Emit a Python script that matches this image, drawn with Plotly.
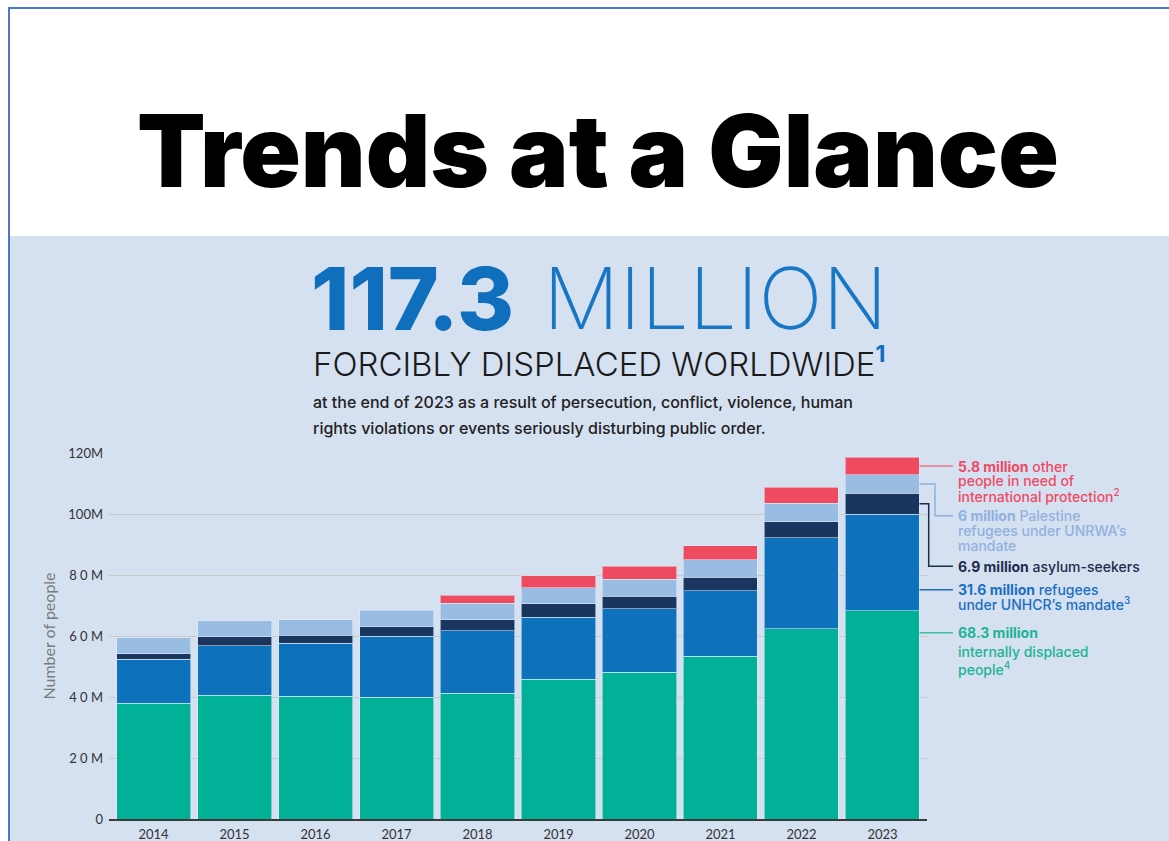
import plotly.graph_objects as go

# ---- data (millions of people, end of year) ----
years = ["2014", "2015", "2016", "2017", "2018", "2019", "2020", "2021", "2022", "2023"]
internally_displaced = [38.0, 40.5, 40.2, 39.9, 41.3, 45.9, 48.1, 53.3, 62.3, 68.3]
refugees_unhcr = [14.3, 16.3, 17.4, 20.0, 20.4, 20.3, 20.8, 21.6, 29.9, 31.6]
asylum_seekers = [1.9, 3.0, 2.6, 3.2, 3.7, 4.3, 4.1, 4.4, 5.3, 6.9]
palestine_unrwa = [5.2, 5.2, 5.2, 5.3, 5.3, 5.4, 5.6, 5.7, 6.0, 6.0]
other_protection = [None, None, None, None, 2.7, 3.9, 4.2, 4.6, 5.2, 5.8]

y_tick_values = [0, 20, 40, 60, 80, 100, 120]
y_tick_labels = ["0", "2 0 M", "4 0 M", "6 0 M", "8 0 M", "100M", "120M"]

# ---- colours ----
C_IDP = "#00b197"
C_REF = "#0e71bb"
C_ASY = "#1b365e"
C_UNRWA = "#99bce3"
C_OTHER = "#ee4b61"
BG = "#d5e0f1"
FRAME = "#4a78c8"

# ---- page geometry (pixels) ----
W, H = 1169, 841
PL, PR, PT, PB = 109, 927, 453, 819
Y_MAX = 120


def px_x(px):
    return (px - PL) / (PR - PL)


def px_y(py):
    return (PB - py) / (PB - PT)


def py_val(py):
    return (PB - py) / (PB - PT) * Y_MAX


series = [
    ("Internally displaced people", internally_displaced, C_IDP),
    ("Refugees under UNHCR's mandate", refugees_unhcr, C_REF),
    ("Asylum-seekers", asylum_seekers, C_ASY),
    ("Palestine refugees under UNRWA's mandate", palestine_unrwa, C_UNRWA),
    ("Other people in need of international protection", other_protection, C_OTHER),
]

fig = go.Figure()
for name, vals, col in series:
    fig.add_trace(go.Bar(
        x=years, y=vals, name=name,
        marker=dict(color=col, line=dict(color="rgba(225,235,250,0.55)", width=1)),
    ))

fig.update_layout(
    width=W, height=H,
    barmode="stack", bargap=0.086,
    showlegend=False,
    paper_bgcolor="white",
    plot_bgcolor="rgba(0,0,0,0)",
    margin=dict(l=PL, r=W - PR, t=PT, b=H - PB, pad=0, autoexpand=False),
    font=dict(family="Lato", color="#333"),
)
fig.update_xaxes(
    type="category", range=[-0.55, 9.55], automargin=False,
    showgrid=False, showline=True, linecolor="#3b3b3b", linewidth=2,
    ticks="", tickfont=dict(family="Lato", size=13, color="#333"),
    ticklabelstandoff=2,
)
fig.update_yaxes(
    range=[0, Y_MAX], tickvals=y_tick_values, ticktext=y_tick_labels, automargin=False,
    showgrid=True, gridcolor="#c9c9c6", gridwidth=1, zeroline=False,
    ticks="", tickfont=dict(family="Lato", size=13, color="#333"),
    ticklabelstandoff=5,
    title=dict(text="Number of people", font=dict(family="Lato", size=16, color="#7a7a7a"), standoff=8),
)

shapes = []
# light panel behind the chart block and the thin frame
shapes.append(dict(type="rect", xref="paper", yref="paper", layer="below",
                   x0=px_x(10), x1=px_x(W + 2), y0=px_y(236), y1=px_y(H + 2),
                   fillcolor=BG, line=dict(width=0)))
shapes.append(dict(type="line", xref="paper", yref="paper", layer="below",
                   x0=px_x(9), x1=px_x(9), y0=px_y(8), y1=px_y(H + 2),
                   line=dict(color=FRAME, width=2)))
shapes.append(dict(type="line", xref="paper", yref="paper", layer="below",
                   x0=px_x(8), x1=px_x(W + 2), y0=px_y(8), y1=px_y(8),
                   line=dict(color=FRAME, width=2)))

# ---- callouts for the latest year ----
last = -1
cum = 0.0
mids = []
for _, vals, _ in series:
    v = vals[last]
    mids.append(cum + v / 2)
    cum += v

bar_edge = px_x(919.5)
text_x = px_x(956)
line_end = px_x(953)

idp_v, ref_v, asy_v, unrwa_v, oth_v = (s[1][last] for s in series)


def fmt(v):
    return f"{v:g}"


callouts = [
    # text colour, connector colour, elbow x (or None), connector start value, rows (text, pixel row)
    (C_OTHER, "#ef7487", None, mids[4],
     [(f"<b>{fmt(oth_v)} million</b> other", None), ("people in need of", 480.5),
      ("international protection<sup>2</sup>", 495.5)]),
    ("#8fb2df", "#8fb2df", 935, mids[3],
     [(f"<b>{fmt(unrwa_v)} million</b> Palestine", 515.7), ("refugees under UNRWA’s", 530.7),
      ("mandate", 545.5)]),
    ("#1d2d4c", "#1d2d4c", 928.7, mids[2],
     [(f"<b>{fmt(asy_v)} million</b> asylum-seekers", 566.3)]),
    ("#1a6fc0", "#1a6fc0", None, None,
     [(f"<b>{fmt(ref_v)} million</b> refugees", 589.7), ("under UNHCR’s mandate<sup>3</sup>", 603.5)]),
    ("#1bb494", "#3fc1a6", None, None,
     [(f"<b>{fmt(idp_v)} million</b>", 632.7), ("internally displaced", 651.0), ("people<sup>4</sup>", 668.5)]),
]

annotations = []
for col, lcol, elbow, start_val, rows in callouts:
    first_row_px = rows[0][1]
    row_val = start_val if first_row_px is None else py_val(first_row_px)
    if start_val is None:
        start_val = row_val
    if elbow is None:
        path = f"M {bar_edge},{start_val} L {line_end},{row_val}"
    else:
        ex = px_x(elbow)
        path = (f"M {bar_edge},{start_val} L {ex},{start_val} "
                f"L {ex},{row_val} L {line_end},{row_val}")
    shapes.append(dict(type="path", xref="paper", yref="y", path=path,
                       line=dict(color=lcol, width=1.5), layer="above"))
    for i, (txt, rpx) in enumerate(rows):
        yv = row_val if i == 0 else py_val(rpx)
        annotations.append(dict(
            text=txt, xref="paper", yref="y", x=text_x, y=yv,
            xanchor="left", yanchor="middle", showarrow=False,
            font=dict(family="Inter", size=14, color=col, weight=500),
        ))

# ---- headline block ----
annotations += [
    dict(text="Trends at a Glance", xref="paper", yref="paper",
         x=px_x(597.5), y=px_y(150.5), xanchor="center", yanchor="middle", showarrow=False,
         font=dict(family="Inter", size=100, color="#000", weight=900)),
    dict(text="117.3", xref="paper", yref="paper",
         x=px_x(309), y=px_y(298), xanchor="left", yanchor="middle", showarrow=False,
         font=dict(family="Inter", size=87, color="#0f6fbd", weight=800)),
    dict(text="MILLION", xref="paper", yref="paper",
         x=px_x(541), y=px_y(298), xanchor="left", yanchor="middle", showarrow=False,
         font=dict(family="Inter", size=85, color="#1877c4", weight=200)),
    dict(text="FORCIBLY DISPLACED WORLDWIDE<sup><b><span style='color:#0f6fbd'>1</span></b></sup>",
         xref="paper", yref="paper",
         x=px_x(311), y=px_y(362), xanchor="left", yanchor="middle", showarrow=False,
         font=dict(family="Inter", size=33, color="#1a1a1a", weight=300)),
    dict(text="at the end of 2023 as a result of persecution, conflict, violence, human",
         xref="paper", yref="paper",
         x=px_x(311), y=px_y(402), xanchor="left", yanchor="middle", showarrow=False,
         font=dict(family="Inter", size=16, color="#222", weight=500)),
    dict(text="rights violations or events seriously disturbing public order.",
         xref="paper", yref="paper",
         x=px_x(311), y=px_y(428), xanchor="left", yanchor="middle", showarrow=False,
         font=dict(family="Inter", size=16, color="#222", weight=500)),
]

fig.update_layout(shapes=shapes, annotations=annotations)
fig.write_html("out.html", config={"displayModeBar": False})
